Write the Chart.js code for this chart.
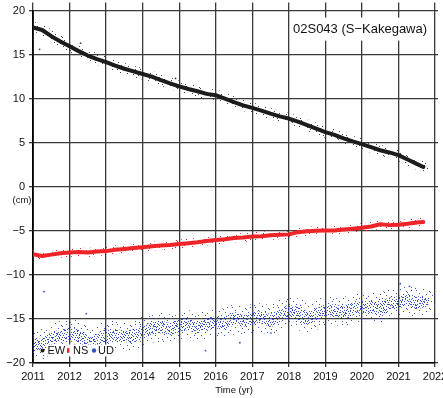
<!DOCTYPE html>
<html><head><meta charset="utf-8">
<script src="https://cdn.jsdelivr.net/npm/chart.js@4.4.1/dist/chart.umd.min.js"></script>
<style>
html,body{margin:0;padding:0;overflow:hidden;background:#fff;width:443px;height:398px}
#wrap{position:absolute;left:0;top:0;width:455px;height:398px}
canvas{display:block}
</style>
</head><body><div id="wrap"><canvas id="c" width="455" height="398"></canvas></div>
<script>
// ---- data (cm) ----
const years = [2011.0,2011.25,2011.5,2011.75,2012.0,2012.25,2012.5,2012.75,2013.0,2013.25,2013.5,2013.75,
  2014.0,2014.25,2014.5,2014.75,2015.0,2015.25,2015.5,2015.75,2016.0,2016.25,2016.5,2016.75,
  2017.0,2017.25,2017.5,2017.75,2018.0,2018.25,2018.5,2018.75,2019.0,2019.25,2019.5,2019.75,
  2020.0,2020.25,2020.5,2020.75,2021.0,2021.25,2021.5,2021.68];
const ew = [18.1,17.8,17.1,16.5, 15.95,15.4,14.9,14.5, 14.15,13.75,13.4,13.1,
  12.8,12.5,12.1,11.75, 11.4,11.1,10.85,10.55, 10.4,10.0,9.6,9.25,
  8.95,8.65,8.3,8.0, 7.75,7.4,7.0,6.6, 6.2,5.9,5.5,5.15,
  4.85,4.5,4.15,3.9, 3.6,3.1,2.6,2.25];
const ns = [-7.65,-7.85,-7.7,-7.55, -7.45,-7.4,-7.45,-7.35, -7.3,-7.15,-7.05,-6.95,
  -6.85,-6.75,-6.65,-6.6, -6.5,-6.4,-6.3,-6.15, -6.05,-5.95,-5.8,-5.75,
  -5.65,-5.6,-5.5,-5.45, -5.4,-5.15,-5.05,-5.0, -4.95,-4.95,-4.85,-4.75,
  -4.65,-4.5,-4.25,-4.35, -4.3,-4.2,-4.05,-4.0];
const ud = [-17.8,-18.0,-17.3,-16.9, -16.6,-16.9,-17.7,-17.5, -16.9,-16.8,-17.0,-16.9,
  -16.4,-16.1,-15.9,-16.2, -15.7,-15.6,-15.9,-15.6, -15.4,-15.5,-14.9,-15.2,
  -14.9,-14.8,-15.2,-14.6, -14.1,-14.3,-15.0,-14.5, -14.1,-14.0,-14.3,-13.8,
  -13.7,-13.6,-13.9,-13.3, -13.1,-12.8,-13.2,-13.0];
const ewOutlierYears = [2011.18, 2012.3, 2014.9];
const ewOutlierValues = [15.6, 16.3, 12.3];
const udOutlierYears = [2011.3, 2012.46, 2015.72, 2016.66, 2017.51, 2021.05, 2021.3];
const udOutlierValues = [-11.9, -14.4, -18.6, -17.7, -16.6, -11.0, -11.3];
const yearTicks = [2011,2012,2013,2014,2015,2016,2017,2018,2019,2020,2021,2022];
const cmTicks = [20,15,10,5,0,-5,-10,-15,-20];
const seriesNames = ['EW','NS','UD'];
const stationLabel = '02S043 (S\u2212Kakegawa)';
const xTitle = 'Time (yr)';
const yUnit = '(cm)';

// ---- styling ----
const FONT = '"Liberation Sans", Arial, Helvetica, sans-serif';
const C_EW = '#1c1c1c', C_NS = '#ee2428', C_UD = '#3556bf';
const GRID = '#3a3a3a';
const mainCtx = document.getElementById('c').getContext('2d');
function dotPattern(color, w, h, dots){
  const c = document.createElement('canvas'); c.width = w; c.height = h;
  const x = c.getContext('2d'); x.fillStyle = color;
  dots.forEach(d => x.fillRect(d[0], d[1], 1, 1));
  return mainCtx.createPattern(c, 'repeat');
}
const sparseDots = [[2,1],[9,0],[15,2],[20,1],[5,4],[12,5],[18,6],[0,7],[8,8],[14,9],[21,9],[3,11],
  [10,12],[17,12],[6,14],[13,15],[20,15],[1,16],[16,3],[11,10]];
const denseDots = [[0,0],[4,0],[9,1],[12,0],[2,2],[6,2],[10,3],[1,4],[5,4],[8,5],[11,5],[3,6],[7,7],
  [12,7],[0,8],[5,8],[9,9],[2,10],[6,10],[11,10],[4,3],[8,2],[1,7],[10,7],[7,4],[3,9],[12,3],[6,6]];

const pts = (xs, ys) => xs.map((t,i) => ({x:t, y:ys[i]}));
const line = (data, color, width) => ({data, borderColor:color, backgroundColor:color, borderWidth:width,
  pointRadius:0, fill:false, tension:0, borderCapStyle:'round', borderJoinStyle:'round'});
const scatter = (data, color) => ({data, showLine:false, pointRadius:0.9, pointBorderWidth:0,
  pointBackgroundColor:color, borderColor:color});

const datasets = [
  line(pts(years, ew), C_EW, 4),
  line(pts(years, ew), dotPattern('#444', 23, 17, sparseDots), 11),
  scatter(pts(ewOutlierYears, ewOutlierValues), '#444'),
  line(pts(years, ns), C_NS, 4),
  line(pts(years, ns), dotPattern(C_NS, 23, 17, sparseDots), 9),
  line(pts(years, ud), dotPattern(C_UD, 13, 11, denseDots), 12),
  line(pts(years, ud), dotPattern(C_UD, 23, 17, sparseDots), 28),
  scatter(pts(udOutlierYears, udOutlierValues), C_UD)
];

const fixTicks = arr => s => { s.ticks = arr.map(v => ({value:v})); };
const minus = v => v < 0 ? '\u2212' + (-v) : String(v);

const overlay = {
  id:'overlay',
  afterDraw(chart){
    const ctx = chart.ctx, a = chart.chartArea;
    ctx.save();
    ctx.fillStyle = '#111'; ctx.textBaseline = 'middle';
    ctx.font = '9.5px ' + FONT; ctx.textAlign = 'center';
    ctx.fillText(yUnit, 22, chart.scales.y.getPixelForValue(0) + 13.5);
    // station label
    ctx.fillStyle = '#fff'; ctx.fillRect(a.right - 144, a.top + 7, 142, 23);
    ctx.fillStyle = '#111'; ctx.font = '13px ' + FONT; ctx.textAlign = 'left';
    ctx.fillText(stationLabel, a.right - 142, a.top + 19);
    // legend
    const ly = a.bottom - 12.5;
    ctx.fillStyle = '#fff'; ctx.fillRect(a.left + 13, ly - 6, 68, 12);
    ctx.font = '11px ' + FONT;
    ctx.fillStyle = C_EW; ctx.beginPath(); ctx.arc(a.left + 9.5, ly, 2, 0, Math.PI*2); ctx.fill();
    ctx.fillStyle = '#111'; ctx.fillText(seriesNames[0], a.left + 14.5, ly + 0.5);
    ctx.fillStyle = C_NS; ctx.fillRect(a.left + 34, ly - 2.3, 2.4, 4.6);
    ctx.fillStyle = '#111'; ctx.fillText(seriesNames[1], a.left + 40, ly + 0.5);
    ctx.fillStyle = C_UD; ctx.beginPath(); ctx.arc(a.left + 61, ly, 2.2, 0, Math.PI*2); ctx.fill();
    ctx.fillStyle = '#111'; ctx.fillText(seriesNames[2], a.left + 65, ly + 0.5);
    ctx.restore();
  }
};

new Chart(document.getElementById('c'), {
  type:'line',
  data:{datasets},
  options:{
    responsive:false, animation:false, events:[],
    layout:{padding:0},
    plugins:{legend:{display:false}, tooltip:{enabled:false}},
    scales:{
      x:{type:'linear', position:'bottom', min:2011, max:2022,
        afterBuildTicks:fixTicks(yearTicks), afterFit:s => { s.height = 35; },
        ticks:{callback:v => String(v), color:'#111', font:{family:FONT, size:11}, padding:3, maxRotation:0, autoSkip:false},
        grid:{color:GRID, lineWidth:1.3, tickLength:4},
        border:{display:true, color:'#000', width:1.6},
        title:{display:true, text:xTitle, color:'#111', font:{family:FONT, size:9.5}, padding:{top:0, bottom:1.6}}
      },
      x2:{type:'linear', position:'top', min:2011, max:2022,
        afterBuildTicks:fixTicks(yearTicks), afterFit:s => { s.height = 8; },
        ticks:{display:false},
        grid:{drawOnChartArea:false, color:GRID, lineWidth:1.3, tickLength:8},
        border:{display:false}
      },
      y:{type:'linear', position:'left', min:-20, max:20,
        afterBuildTicks:fixTicks(cmTicks), afterFit:s => { s.width = 33; },
        ticks:{callback:minus, color:'#111', font:{family:FONT, size:11}, padding:4},
        grid:{color:GRID, lineWidth:1.3, tickLength:4},
        border:{display:true, color:'#000', width:1.8}
      },
      y2:{type:'linear', position:'right', min:-20, max:20,
        afterBuildTicks:fixTicks(cmTicks), afterFit:s => { s.width = 20; },
        ticks:{display:false},
        grid:{drawOnChartArea:false, color:GRID, lineWidth:1.3, tickLength:3},
        border:{display:false}
      }
    }
  },
  plugins:[overlay]
});
</script>
</body></html>
